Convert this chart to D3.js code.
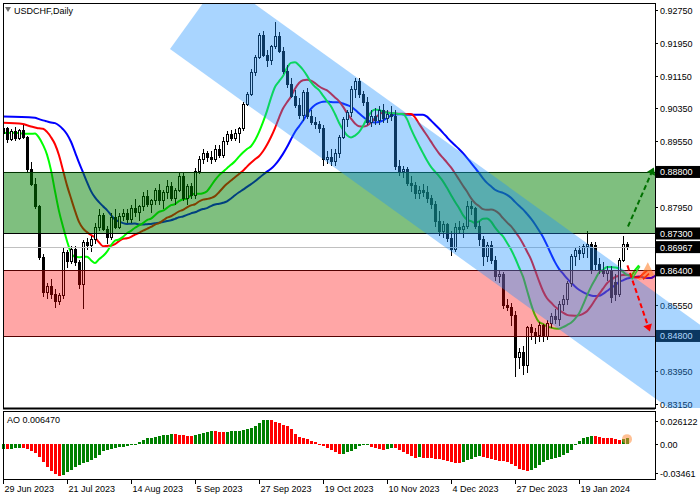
<!DOCTYPE html>
<html>
<head>
<meta charset="utf-8">
<script src="https://cdn.jsdelivr.net/npm/d3@7"></script>
<style>
  body { margin: 0; background: #fff; }
  text { font-family: "Liberation Sans", Arial, sans-serif; font-size: 9px; }
</style>
</head>
<body>
<div id="chart"></div>
<script>
// daily candles, prices in 1e-4 (8975 = 0.8975)
const opens = [8975,8985,8960,8978,8962,8980,8965,8885,8850,8795,8672,8585,8600,8580,8565,8578,8683,8662,8692,8658,
  8605,8708,8700,8715,8745,8775,8740,8720,8770,8745,8772,8778,8765,8790,8780,8795,8820,8800,8810,8835,
  8810,8830,8845,8815,8835,8870,8815,8845,8822,8880,8910,8925,8915,8910,8935,8920,8955,8972,8962,8975,
  8985,9045,9070,9123,9160,9212,9165,9152,9185,9210,9175,9126,9094,9065,9042,9018,9075,9015,9000,8995,
  8985,8910,8915,8905,8925,8965,9008,9025,9082,9100,9070,9050,9000,9015,9005,9030,9010,9020,9015,8893,
  8880,8885,8852,8848,8828,8835,8830,8815,8800,8758,8735,8752,8718,8690,8745,8740,8748,8795,8790,8748,
  8715,8673,8700,8665,8624,8630,8555,8550,8530,8428,8440,8409,8500,8488,8480,8505,8478,8510,8528,8520,
  8556,8570,8608,8673,8688,8680,8698,8703,8700,8655,8640,8632,8640,8610,8580,8665,8703];
const highs = [8995,8990,8985,8990,8985,8995,8968,8905,8865,8800,8680,8610,8620,8595,8585,8695,8690,8700,8700,8665,
  8715,8720,8725,8755,8790,8780,8748,8780,8790,8780,8790,8790,8800,8815,8800,8830,8835,8815,8840,8850,
  8835,8860,8855,8840,8880,8880,8850,8852,8890,8920,8935,8930,8930,8945,8945,8965,8980,8982,8985,8990,
  9050,9075,9130,9165,9220,9225,9178,9190,9245,9222,9185,9140,9110,9080,9060,9080,9085,9030,9015,9005,
  8995,8930,8935,8935,8970,9015,9030,9090,9110,9108,9078,9062,9030,9035,9040,9045,9030,9040,9030,8910,
  8895,8892,8870,8855,8845,8850,8845,8825,8810,8785,8760,8755,8735,8755,8760,8755,8810,8810,8795,8760,
  8725,8710,8712,8675,8640,8635,8570,8560,8540,8450,8455,8505,8510,8500,8515,8510,8520,8535,8545,8565,
  8580,8615,8680,8695,8700,8705,8735,8708,8710,8670,8660,8650,8650,8630,8670,8725,8710];
const lows = [8960,8950,8955,8955,8958,8960,8880,8845,8790,8665,8575,8570,8570,8548,8555,8570,8645,8655,8650,8595,
  8545,8690,8685,8705,8735,8735,8705,8715,8740,8740,8760,8755,8755,8770,8760,8785,8795,8780,8800,8800,
  8790,8815,8810,8800,8830,8810,8800,8815,8815,8875,8900,8905,8900,8905,8915,8915,8945,8955,8955,8950,
  8980,9040,9065,9115,9155,9160,9135,9140,9180,9170,9120,9085,9060,9035,9010,9005,9010,8995,8985,8975,
  8895,8900,8895,8895,8915,8960,8990,9015,9060,9060,9040,8995,8990,8995,8995,9000,9000,9005,8885,8870,
  8865,8845,8830,8815,8815,8820,8805,8790,8745,8725,8720,8710,8675,8685,8730,8720,8740,8775,8740,8700,
  8650,8660,8655,8615,8610,8545,8540,8505,8380,8400,8385,8390,8470,8460,8465,8465,8470,8500,8510,8505,
  8540,8555,8600,8650,8665,8670,8670,8630,8640,8630,8625,8615,8560,8565,8575,8660,8690];
const closes = [8985,8960,8978,8962,8980,8965,8885,8850,8795,8672,8585,8600,8580,8565,8578,8683,8662,8692,8658,8605,
  8708,8700,8715,8745,8775,8740,8720,8770,8745,8772,8778,8765,8790,8780,8795,8820,8800,8810,8835,8810,
  8830,8845,8815,8835,8870,8815,8845,8822,8880,8910,8925,8915,8910,8935,8920,8955,8972,8962,8975,8985,
  9045,9070,9123,9160,9212,9165,9152,9185,9210,9175,9126,9094,9065,9042,9018,9075,9015,9000,8995,8985,
  8910,8915,8905,8925,8965,9008,9025,9082,9100,9070,9050,9000,9015,9005,9030,9010,9020,9015,8893,8880,
  8885,8852,8848,8828,8835,8830,8815,8800,8758,8735,8752,8718,8690,8745,8740,8748,8795,8790,8748,8715,
  8673,8700,8665,8624,8630,8555,8550,8530,8428,8440,8409,8500,8488,8480,8505,8478,8510,8528,8520,8556,
  8570,8608,8673,8688,8680,8698,8703,8640,8655,8640,8632,8640,8575,8580,8665,8703,8697];

// Awesome Oscillator values
const aoValues = [-0.0065,-0.0065,-0.0058,-0.0054,-0.0047,-0.0047,-0.0065,-0.0083,-0.0112,-0.0155,
  -0.0220,-0.0281,-0.0328,-0.0364,-0.0378,-0.0371,-0.0335,-0.0310,-0.0274,-0.0252,
  -0.0234,-0.0220,-0.0198,-0.0173,-0.0137,-0.0090,-0.0076,-0.0065,-0.0047,-0.0040,
  -0.0036,-0.0029,-0.0018,-0.0004,0.0014,0.0043,0.0061,0.0072,0.0079,0.0086,
  0.0097,0.0104,0.0115,0.0115,0.0104,0.0104,0.0086,0.0086,0.0097,0.0115,
  0.0126,0.0140,0.0148,0.0148,0.0141,0.0140,0.0142,0.0144,0.0148,0.0151,
  0.0158,0.0169,0.0187,0.0205,0.0248,0.0274,0.0277,0.0277,0.0259,0.0248,
  0.0223,0.0205,0.0176,0.0115,0.0079,0.0068,0.0050,0.0032,0.0014,-0.0011,
  -0.0029,-0.0050,-0.0080,-0.0105,-0.0120,-0.0117,-0.0100,-0.0083,-0.0061,-0.0029,
  -0.0022,-0.0018,-0.0036,-0.0047,-0.0061,-0.0072,-0.0061,-0.0050,-0.0054,-0.0072,
  -0.0094,-0.0119,-0.0151,-0.0173,-0.0162,-0.0173,-0.0175,-0.0176,-0.0177,-0.0180,
  -0.0191,-0.0209,-0.0223,-0.0227,-0.0229,-0.0216,-0.0198,-0.0180,-0.0162,-0.0151,
  -0.0158,-0.0169,-0.0180,-0.0191,-0.0202,-0.0205,-0.0223,-0.0245,-0.0263,-0.0299,
  -0.0317,-0.0324,-0.0313,-0.0288,-0.0252,-0.0216,-0.0191,-0.0180,-0.0169,-0.0160,
  -0.0137,-0.0112,-0.0076,-0.0022,0.0025,0.0061,0.0079,0.0090,0.0086,0.0079,
  0.0072,0.0068,0.0061,0.0050,0.0043,0.0054,0.00647];

const dateLabels = ["29 Jun 2023","21 Jul 2023","14 Aug 2023","5 Sep 2023","27 Sep 2023","19 Oct 2023",
  "10 Nov 2023","4 Dec 2023","27 Dec 2023","19 Jan 2024"];
const priceTicks = [0.92750,0.91950,0.91150,0.90350,0.89550,0.87950,0.85550,0.83950,0.83150];
const boxLevels = [0.88800,0.87300,0.86967,0.86400,0.84800];

// alligator lines: period, shift, colour, value at the left edge
const alligator = [
  { period: 13, shift: 8, color: "#0000ff", seed: 0.9015 },
  { period: 8, shift: 5, color: "#ff0000", seed: 0.9000 },
  { period: 5, shift: 3, color: "#00ff00", seed: 0.8975 }
];

const buyZone = [0.8730, 0.8880];
const sellZone = [0.8480, 0.8640];
const lastPrice = 0.86967;
const channel = { startBar: 41.75, startPrice: 0.91799, endBar: 175, endPrice: 0.82438, width: 0.02585 };
const upArrow = [[156.25, 0.8747], [162.3, 0.8882]];
const downArrow = [[156.1, 0.8652], [161.4, 0.8500]];

const W = 700, H = 500;
const left = 3, right = 655, mainTop = 3, mainBottom = 408, aoTop = 411, aoBottom = 479;

const svg = d3.select("#chart").append("svg").attr("width", W).attr("height", H);

const x = d3.scaleLinear().domain([0, 163]).range([left, right]);
const y = d3.scaleLinear().domain([0.83043, 0.92921]).range([mainBottom, mainTop]);
const yAo = d3.scaleLinear().domain([-0.0371, 0.0338]).range([aoBottom - 4, aoTop + 4]);

const p = v => v / 10000;
const bars = closes.map((c, i) => ({ i, o: p(opens[i]), h: p(highs[i]), l: p(lows[i]), c: p(c) }));

const defs = svg.append("defs");
defs.append("clipPath").attr("id", "clipMain").append("rect")
  .attr("x", left).attr("y", mainTop).attr("width", right - left).attr("height", mainBottom - mainTop);
defs.append("clipPath").attr("id", "clipWide").append("rect")
  .attr("x", left).attr("y", mainTop).attr("width", W - left).attr("height", mainBottom - mainTop);

const main = svg.append("g").attr("clip-path", "url(#clipMain)");

// alligator (smoothed moving averages of median price)
const median = bars.map(b => (b.h + b.l) / 2);
alligator.forEach(a => {
  let v = a.seed;
  const pts = [[0, a.seed]];
  median.forEach((m, i) => {
    v = (v * (a.period - 1) + m) / a.period;
    pts.push([i + a.shift, v]);
  });
  main.append("path")
    .attr("d", d3.line().x(d => x(d[0])).y(d => y(d[1])).curve(d3.curveMonotoneX)(pts))
    .attr("fill", "none").attr("stroke", a.color).attr("stroke-width", 2);
});

// candles
const cg = main.append("g").attr("shape-rendering", "crispEdges");
cg.selectAll("line").data(bars).join("line")
  .attr("x1", d => Math.round(x(d.i)) + 0.5).attr("x2", d => Math.round(x(d.i)) + 0.5)
  .attr("y1", d => y(d.h)).attr("y2", d => y(d.l)).attr("stroke", "#000");
cg.selectAll("rect").data(bars).join("rect")
  .attr("x", d => Math.round(x(d.i)) - 0.5).attr("width", 2)
  .attr("y", d => y(Math.max(d.o, d.c))).attr("height", d => Math.max(1, Math.abs(y(d.o) - y(d.c))))
  .attr("fill", d => d.c >= d.o ? "#fff" : "#000").attr("stroke", "#000");

// zones
main.append("rect").attr("x", left).attr("width", right - left)
  .attr("y", y(buyZone[1])).attr("height", y(buyZone[0]) - y(buyZone[1]))
  .attr("fill", "rgba(0,128,0,0.5)");
main.append("rect").attr("x", left).attr("width", right - left)
  .attr("y", y(sellZone[1])).attr("height", y(sellZone[0]) - y(sellZone[1]))
  .attr("fill", "rgba(255,0,0,0.35)");
[[buyZone[1], "#003300"], [buyZone[0], "#000"], [sellZone[1], "#550000"], [sellZone[0], "#550000"]].forEach(([v, c]) => {
  main.append("line").attr("x1", left).attr("x2", right).attr("y1", Math.round(y(v)) + 0.5).attr("y2", Math.round(y(v)) + 0.5)
    .attr("stroke", c);
});
main.append("line").attr("x1", left).attr("x2", right)
  .attr("y1", Math.round(y(lastPrice)) + 0.5).attr("y2", Math.round(y(lastPrice)) + 0.5)
  .attr("stroke", "#c0c0c0");

// right price axis
const axisG = svg.append("g");
priceTicks.forEach(t => {
  const yy = Math.round(y(t)) + 0.5;
  axisG.append("line").attr("x1", right).attr("x2", right + 3).attr("y1", yy).attr("y2", yy).attr("stroke", "#000");
  axisG.append("text").attr("x", right + 5).attr("y", yy + 3.5).text(t.toFixed(5));
});
boxLevels.forEach(t => {
  const yy = y(t);
  axisG.append("rect").attr("x", right + 1).attr("y", yy - 6).attr("width", W - right - 1).attr("height", 12).attr("fill", "#000");
  axisG.append("text").attr("x", right + 5).attr("y", yy + 3.5).attr("fill", "#fff").text(t.toFixed(5));
});

// descending channel (drawn over candles, spills over the axis)
{
  const x0 = x(channel.startBar), y0 = y(channel.startPrice);
  const x1 = x(channel.endBar), y1 = y(channel.endPrice);
  const gap = y(channel.startPrice) - y(channel.startPrice + channel.width);
  const len = Math.hypot(x1 - x0, y1 - y0);
  const dx = (x1 - x0) / len, dy = (y1 - y0) / len;
  const h = gap * dx;
  const ux = x0 + dy * h, uy = y0 - dx * h;
  const t = (x1 - ux);
  const poly = [[x0, y0], [ux, uy], [x1, uy + t * dy / dx], [x1, y1]];
  svg.append("g").attr("clip-path", "url(#clipWide)").append("path")
    .attr("d", "M" + poly.join("L") + "Z").attr("fill", "rgba(30,144,255,0.38)");
}

// signal arrows
const ann = svg.append("g").attr("clip-path", "url(#clipWide)");
function arrow(pts, color) {
  const [a, b] = pts.map(d => [x(d[0]), y(d[1])]);
  const ang = Math.atan2(b[1] - a[1], b[0] - a[0]);
  const tip = [b[0] + 4 * Math.cos(ang), b[1] + 4 * Math.sin(ang)];
  ann.append("line").attr("x1", a[0]).attr("y1", a[1]).attr("x2", b[0]).attr("y2", b[1])
    .attr("stroke", color).attr("stroke-width", 2).attr("stroke-dasharray", "5,3");
  const s = 7, w = 4.5;
  const bx = tip[0] - s * Math.cos(ang), by = tip[1] - s * Math.sin(ang);
  ann.append("path").attr("fill", color).attr("d",
    `M${tip}L${bx - w * Math.sin(ang)},${by + w * Math.cos(ang)}L${bx + w * Math.sin(ang)},${by - w * Math.cos(ang)}Z`);
}
arrow(upArrow, "#007000");
arrow(downArrow, "#ff0000");
// small signal marker at the channel edge
ann.append("path").attr("fill", "rgba(255,120,30,0.55)")
  .attr("d", `M${x(158.8)},${y(0.8615)}L${x(161.2)},${y(0.8660)}L${x(162.8)},${y(0.8628)}Z`);
ann.append("line").attr("x1", x(157.2)).attr("y1", y(0.8618)).attr("x2", x(159.2)).attr("y2", y(0.8650))
  .attr("stroke", "#33cc33").attr("stroke-width", 1.5);
ann.append("line").attr("x1", x(160)).attr("y1", y(0.8618)).attr("x2", x(161.5)).attr("y2", y(0.8632))
  .attr("stroke", "#ff2a00").attr("stroke-width", 1.5);

// frames
svg.append("rect").attr("x", left + 0.5).attr("y", mainTop + 0.5).attr("width", right - left).attr("height", mainBottom - mainTop)
  .attr("fill", "none").attr("stroke", "#000");
svg.append("line").attr("x1", left).attr("x2", right).attr("y1", mainBottom + 0.5).attr("y2", mainBottom + 0.5)
  .attr("stroke", "#000").attr("stroke-width", 2);

svg.append("path").attr("d", "M5,7 L11,7 L8,12 Z").attr("fill", "#6c6c6c");
svg.append("text").attr("x", 14).attr("y", 14).text("USDCHF,Daily");

// AO panel
const ao = svg.append("g").attr("shape-rendering", "crispEdges");
ao.selectAll("rect").data(aoValues).join("rect")
  .attr("x", (d, i) => Math.round(x(i)) - 1).attr("width", 3)
  .attr("y", d => Math.min(yAo(d), yAo(0))).attr("height", d => Math.max(1, Math.abs(yAo(d) - yAo(0))))
  .attr("fill", (d, i) => i === 0 || d > aoValues[i - 1] ? "#008000" : "#ff0000");
const lastI = aoValues.length - 1;
svg.append("circle").attr("cx", x(lastI)).attr("cy", yAo(aoValues[lastI]) + 1).attr("r", 5)
  .attr("fill", "rgba(255,140,60,0.55)");
svg.append("rect").attr("x", left + 0.5).attr("y", aoTop + 0.5).attr("width", right - left).attr("height", aoBottom - aoTop)
  .attr("fill", "none").attr("stroke", "#000");
svg.append("text").attr("x", 7).attr("y", 423).text("AO " + aoValues[lastI].toFixed(6));
[[0.026122, "0.026122"], [0, "0.00"], [-0.03461, "-0.03461"]].forEach(([v, s]) => {
  const yy = Math.round(yAo(v)) + 0.5;
  svg.append("line").attr("x1", right).attr("x2", right + 3).attr("y1", yy).attr("y2", yy).attr("stroke", "#000");
  svg.append("text").attr("x", right + 5).attr("y", yy + 3.5).text(s);
});

// date axis
dateLabels.forEach((s, k) => {
  const xx = Math.round(x(k * 16)) + 0.5;
  svg.append("line").attr("x1", xx).attr("x2", xx).attr("y1", aoBottom).attr("y2", aoBottom + 5).attr("stroke", "#000");
  svg.append("text").attr("x", xx + 1).attr("y", 492).text(s);
});
</script>
</body>
</html>
